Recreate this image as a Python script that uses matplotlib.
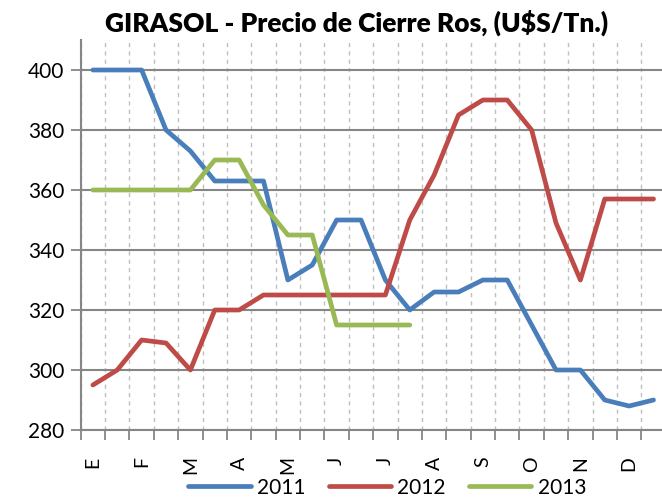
import matplotlib
matplotlib.use("Agg")
import matplotlib.pyplot as plt
import numpy as np

months = ["E", "F", "M", "A", "M", "J", "J", "A", "S", "O", "N", "D"]
s2011 = [400, 400, 400, 380, 373, 363, 363, 363, 330, 335, 350, 350,
         330, 320, 326, 326, 330, 330, 315, 300, 300, 290, 288, 290]
s2012 = [295, 300, 310, 309, 300, 320, 320, 325, 325, 325, 325, 325,
         325, 350, 365, 385, 390, 390, 380, 349, 330, 357, 357, 357]
s2013 = [360, 360, 360, 360, 360, 370, 370, 355, 345, 345, 315, 315,
         315, 315]
series = [("2011", s2011, "#4A7EBB"), ("2012", s2012, "#BE4B48"), ("2013", s2013, "#98B954")]

plt.rcParams['font.family'] = ['Lato', 'DejaVu Sans']

fig = plt.figure(figsize=(6.62, 5.0), dpi=100)
ax = fig.add_axes([80.7/662, 70/500, 585/662, 390/500])

for name, vals, col in series:
    ax.plot(np.arange(len(vals)), vals, color=col, lw=3.4, label=name,
            solid_capstyle='round', solid_joinstyle='round', zorder=3)

n = len(s2011)
ax.set_xlim(-0.5, n - 0.5)
ax.set_ylim(280, 410)
ax.set_yticks(np.arange(280, 401, 20))
ax.set_xticks(np.arange(n + 1) - 0.5)
ax.set_xticklabels([])
ax.set_xticks(np.arange(0, n, 2), minor=True)
ax.set_xticklabels(months, minor=True, rotation=90, fontsize=14, va='top', ha='center')
ax.tick_params(axis='x', which='minor', length=0, pad=19)
ax.tick_params(axis='x', which='major', length=7, color='#868686', width=1.3)
ax.tick_params(axis='y', length=7, color='#868686', width=1.3, labelsize=15, pad=5)

ax.yaxis.grid(True, color='#868686', lw=1.5, zorder=1)
ax.xaxis.grid(True, which='major', color='#C0C0C0', lw=1.0, ls=(0, (3, 3)), zorder=1)
ax.set_axisbelow(True)
for sp in ['top', 'right']:
    ax.spines[sp].set_visible(False)
for sp in ['left', 'bottom']:
    ax.spines[sp].set_color('#868686')
    ax.spines[sp].set_linewidth(1.5)

fig.text(0.538, 0.955, "GIRASOL - Precio de Cierre Ros, (U$S/Tn.)", ha='center', va='center',
         fontsize=19, fontweight='heavy')

leg = fig.legend(loc='center', bbox_to_anchor=(0.585, 0.025), ncol=3, frameon=False,
                 fontsize=15, handlelength=3.0, handletextpad=0.3, columnspacing=1.1)

fig.savefig("out.png", dpi=100)
